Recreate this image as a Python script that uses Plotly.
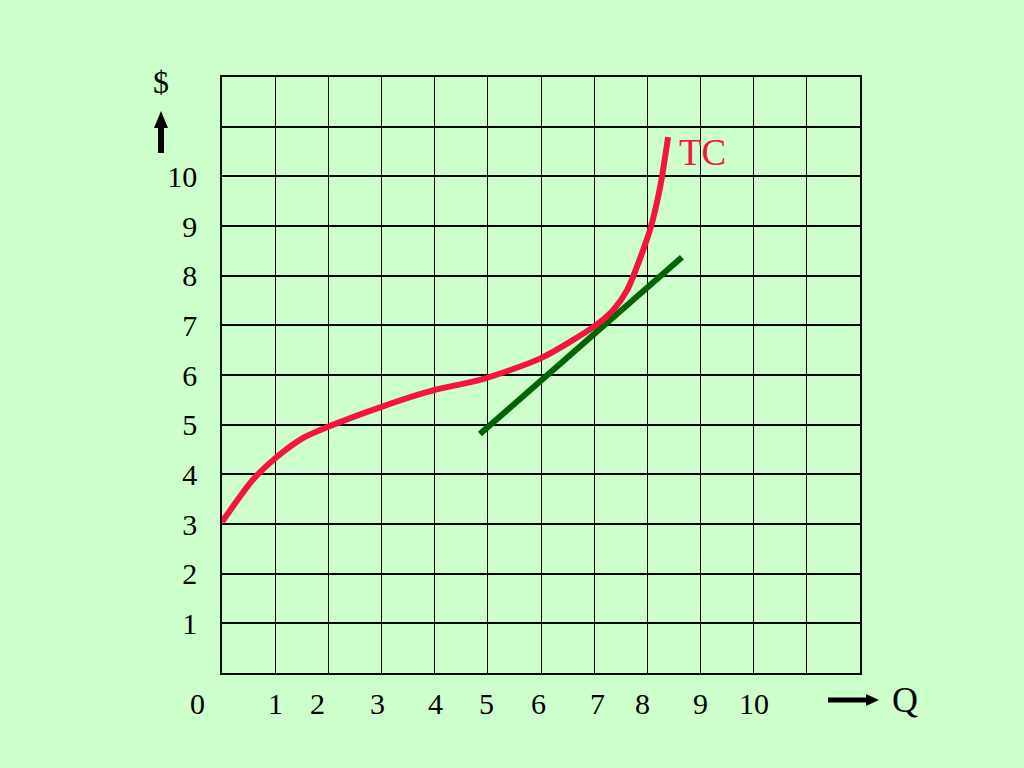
import plotly.graph_objects as go

# Data
tc_q = [0, 0.58, 1.03, 1.52, 2.0, 3.0, 4.0, 4.85, 6.0, 7.0, 7.35, 7.62, 8.05, 8.24, 8.39]
tc_cost = [3.04, 3.89, 4.35, 4.73, 4.96, 5.36, 5.70, 5.90, 6.34, 6.98, 7.30, 7.71, 8.92, 9.78, 10.79]
tangent_q = [4.85, 8.65]
tangent_cost = [4.81, 8.37]
x_tick_text = ["0", "1", "2", "3", "4", "5", "6", "7", "8", "9", "10"]
x_tick_pos = [-0.47, 1.0, 1.79, 2.92, 4.02, 4.98, 5.96, 7.07, 7.9, 9.0, 10.0]
y_tick_text = ["1", "2", "3", "4", "5", "6", "7", "8", "9", "10"]

BG = "#CCFFCC"
RED = "#F5143C"
GREEN = "#006400"
FONT = "Liberation Serif"

fig = go.Figure()
fig.add_trace(go.Scatter(x=tangent_q, y=tangent_cost, mode="lines",
                         line=dict(color=GREEN, width=6), hoverinfo="skip"))
fig.add_trace(go.Scatter(x=tc_q, y=tc_cost, mode="lines",
                         line=dict(color=RED, width=6, shape="spline", smoothing=0.7),
                         hoverinfo="skip"))

L, R, T, B = 222, 164, 77, 95
W, H = 1024 - L - R, 768 - T - B
XMAX = 12


def px(x):
    return (x - L) / W


def py(y):
    return (768 - B - y) / H


annotations = []
for t, p in zip(x_tick_text, x_tick_pos):
    annotations.append(dict(x=p / XMAX, y=py(703), xref="paper", yref="paper", text=t,
                            showarrow=False, font=dict(family=FONT, size=30, color="black"),
                            xanchor="center", yanchor="middle"))
annotations.append(dict(x=9.03, y=10.49, xref="x", yref="y", text="TC", showarrow=False,
                        font=dict(family=FONT, size=37, color=RED), xanchor="center", yanchor="middle"))
annotations.append(dict(x=px(161), y=py(82), xref="paper", yref="paper", text="$", showarrow=False,
                        font=dict(family=FONT, size=32, color="black"), xanchor="center", yanchor="middle"))
annotations.append(dict(x=px(905), y=py(700), xref="paper", yref="paper", text="Q", showarrow=False,
                        font=dict(family=FONT, size=36, color="black"), xanchor="center", yanchor="middle"))

shapes = [
    # up arrow shaft and head
    dict(type="rect", xref="paper", yref="paper", x0=px(158), x1=px(164), y0=py(153), y1=py(126),
         fillcolor="black", line=dict(width=0)),
    dict(type="path", xref="paper", yref="paper",
         path=f"M {px(154)} {py(128)} L {px(168)} {py(128)} L {px(161)} {py(111)} Z",
         fillcolor="black", line=dict(width=0)),
    # right arrow shaft and head
    dict(type="rect", xref="paper", yref="paper", x0=px(828), x1=px(868), y0=py(702.5), y1=py(697.5),
         fillcolor="black", line=dict(width=0)),
    dict(type="path", xref="paper", yref="paper",
         path=f"M {px(866)} {py(694)} L {px(866)} {py(706)} L {px(879)} {py(700)} Z",
         fillcolor="black", line=dict(width=0)),
]

fig.update_layout(
    width=1024, height=768,
    paper_bgcolor=BG, plot_bgcolor=BG,
    margin=dict(l=L, r=R, t=T, b=B),
    showlegend=False,
    annotations=annotations,
    shapes=shapes,
    xaxis=dict(range=[0, XMAX], dtick=1, tick0=0, showgrid=True, gridcolor="black", gridwidth=1.2,
               showticklabels=False, zeroline=False, showline=True, linecolor="black",
               linewidth=2, mirror=True, ticks=""),
    yaxis=dict(range=[0, 12], showgrid=True, gridcolor="black", gridwidth=2,
               tickmode="array", tickvals=list(range(0, 13)),
               ticktext=[""] + y_tick_text + ["", ""],
               tickfont=dict(family=FONT, size=30, color="black"),
               ticklabelstandoff=17,
               zeroline=False, showline=True, linecolor="black", linewidth=1.5, mirror=True, ticks=""),
)

fig.write_html("out.html", config={"displayModeBar": False},
               post_script="document.body.style.margin='0';document.body.style.background='#CCFFCC';")
